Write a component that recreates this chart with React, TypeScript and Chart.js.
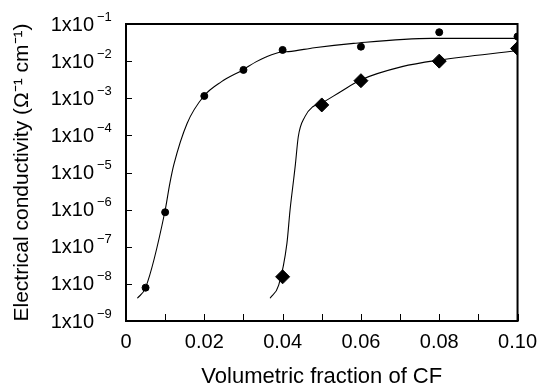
import React, { useEffect, useRef } from 'react';
import { Chart, registerables } from 'chart.js';

Chart.register(...registerables);

// Measured data points
const circleX = [0.005, 0.01, 0.02, 0.03, 0.04, 0.06, 0.08, 0.10];
const circleY = [7.9e-9, 8.5e-7, 1.15e-3, 5.8e-3, 2.0e-2, 2.45e-2, 6.0e-2, 4.6e-2];
const diamondX = [0.04, 0.05, 0.06, 0.08, 0.10];
const diamondY = [1.55e-8, 6.6e-4, 2.97e-3, 1.0e-2, 2.2e-2];

// Fitted curves
const circleFitX = [0.0029, 0.005, 0.0099, 0.0112, 0.0122, 0.0156, 0.0199, 0.0244, 0.0298, 0.0333, 0.0356, 0.0397, 0.0415, 0.0481, 0.0581, 0.078, 0.10];
const circleFitY = [4.1e-9, 7.9e-9, 8.5e-7, 5.1e-6, 1.6e-5, 2.1e-4, 1.15e-3, 2.8e-3, 5.8e-3, 9.7e-3, 1.27e-2, 1.76e-2, 1.8e-2, 2.3e-2, 3.0e-2, 4.1e-2, 4.1e-2];
const diamondFitX = [0.0368, 0.039, 0.0411, 0.0419, 0.0428, 0.04325, 0.044, 0.0457, 0.0477, 0.0498, 0.0548, 0.0599, 0.0705, 0.08, 0.0998];
const diamondFitY = [4.1e-9, 9.3e-9, 1.23e-7, 9.8e-7, 6.3e-6, 1.6e-5, 9.2e-5, 3.2e-4, 5.9e-4, 7.3e-4, 1.5e-3, 3.1e-3, 7.1e-3, 1.07e-2, 1.9e-2];

// Axes
const xTicks = [0, 0.01, 0.02, 0.03, 0.04, 0.05, 0.06, 0.07, 0.08, 0.09, 0.10];
const xTickLabels = ['0', '', '0.02', '', '0.04', '', '0.06', '', '0.08', '', '0.10'];
const yTickExps = [-9, -8, -7, -6, -5, -4, -3, -2, -1];
const yTickMain = '1x10';
const xTitle = 'Volumetric fraction of CF';
const yTitle = 'Electrical conductivity (Ω⁻¹ cm⁻¹)';

const FONT = '"Liberation Sans", Arial, Helvetica, sans-serif';

const zip = (xs: number[], ys: number[]) => xs.map((x, i) => ({ x, y: ys[i] }));

const framePlugin = {
  id: 'frame',
  afterDraw(chart: any) {
    const { ctx, chartArea: a, scales } = chart;
    const xs = scales.x;
    const ys = scales.y;
    ctx.save();
    ctx.strokeStyle = '#000';
    ctx.lineWidth = 1;
    ctx.beginPath();
    for (const v of xTicks) {
      const px = Math.round(xs.getPixelForValue(v)) + 0.5;
      ctx.moveTo(px, a.bottom);
      ctx.lineTo(px, a.bottom - 7);
    }
    for (const e of yTickExps) {
      const py = Math.round(ys.getPixelForValue(Math.pow(10, e))) + 0.5;
      ctx.moveTo(a.left, py);
      ctx.lineTo(a.left + 6, py);
    }
    ctx.stroke();
    ctx.lineWidth = 2;
    ctx.strokeRect(a.left, a.top, a.right - a.left, a.bottom - a.top);
    ctx.fillStyle = '#000';
    ctx.textBaseline = 'middle';
    for (const e of yTickExps) {
      const py = ys.getPixelForValue(Math.pow(10, e));
      ctx.font = '20px ' + FONT;
      ctx.textAlign = 'right';
      ctx.fillText(yTickMain, a.left - 32, py + 1);
      ctx.font = '13px ' + FONT;
      ctx.textAlign = 'left';
      ctx.fillText('\u2212' + Math.abs(e), a.left - 29, py - 7);
    }
    ctx.restore();
  },
};

export default function App() {
  const ref = useRef<HTMLCanvasElement | null>(null);
  useEffect(() => {
    if (!ref.current) return;
    const chart = new Chart(ref.current, {
      type: 'scatter',
      data: {
        datasets: [
          {
            type: 'line',
            data: zip(circleFitX, circleFitY),
            borderColor: '#000',
            borderWidth: 1.1,
            pointRadius: 0,
            cubicInterpolationMode: 'monotone',
            fill: false,
          } as any,
          {
            type: 'line',
            data: zip(diamondFitX, diamondFitY),
            borderColor: '#000',
            borderWidth: 1.1,
            pointRadius: 0,
            cubicInterpolationMode: 'monotone',
            fill: false,
          } as any,
          {
            data: zip(circleX, circleY),
            pointStyle: 'circle',
            pointRadius: 3.5,
            backgroundColor: '#000',
            borderColor: '#000',
            borderWidth: 1,
            showLine: false,
          },
          {
            data: zip(diamondX, diamondY),
            pointStyle: 'rectRot',
            pointRadius: 7,
            backgroundColor: '#000',
            borderColor: '#000',
            borderWidth: 1,
            showLine: false,
          },
        ],
      },
      options: {
        animation: false,
        responsive: false,
        layout: { padding: { top: 24, right: 17, bottom: 0, left: 0 } },
        plugins: { legend: { display: false }, tooltip: { enabled: false } },
        scales: {
          x: {
            type: 'linear',
            min: 0,
            max: 0.1,
            grid: { display: false, drawTicks: false },
            border: { display: false },
            afterBuildTicks: (s: any) => {
              s.ticks = xTicks.map((v) => ({ value: v }));
            },
            afterFit: (s: any) => {
              s.height = 69;
            },
            ticks: {
              color: '#000',
              font: { size: 20, family: FONT },
              padding: 9,
              maxRotation: 0,
              autoSkip: false,
              callback: (_v: any, i: number) => xTickLabels[i],
            },
            title: {
              display: true,
              text: xTitle,
              color: '#000',
              font: { size: 22, family: FONT },
              padding: { top: 0, bottom: 0 },
            },
          },
          y: {
            type: 'logarithmic',
            min: 1e-9,
            max: 1e-1,
            grid: { display: false, drawTicks: false },
            border: { display: false },
            ticks: { display: false },
            afterFit: (s: any) => {
              s.width = 126;
            },
            title: {
              display: true,
              text: yTitle,
              color: '#000',
              font: { size: 21, family: FONT },
              padding: { top: 10, bottom: 0 },
            },
          },
        },
      },
      plugins: [framePlugin],
    } as any);
    return () => chart.destroy();
  }, []);
  return (
    <div style={{ position: 'absolute', left: 0, top: 0, width: 546, height: 390, background: '#fff' }}>
      <canvas ref={ref} width={546} height={390} />
    </div>
  );
}
